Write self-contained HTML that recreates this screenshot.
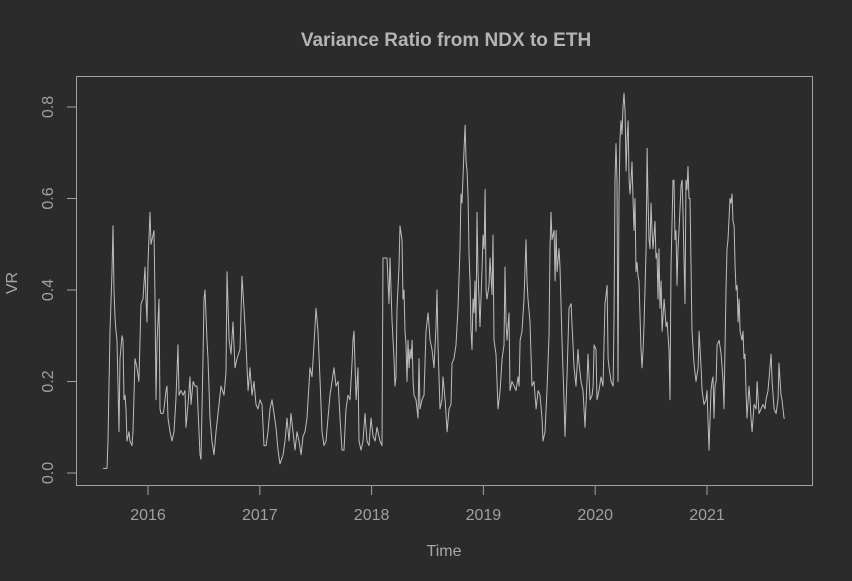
<!DOCTYPE html>
<html><head><meta charset="utf-8"><style>
html,body{margin:0;padding:0;background:#2b2b2b;}
svg{display:block;font-family:"Liberation Sans",Arial,sans-serif;}
</style></head><body>
<svg id="chart" width="852" height="581" viewBox="0 0 852 581" xmlns="http://www.w3.org/2000/svg">
<rect x="0" y="0" width="852" height="581" fill="#2b2b2b"/>
<text x="446" y="46" text-anchor="middle" font-size="19" font-weight="bold" fill="#b4b4b4">Variance Ratio from NDX to ETH</text>
<g id="yaxis"></g>
<g id="xaxis"></g>
<text x="444" y="556" text-anchor="middle" font-size="16" fill="#a8a8a8">Time</text>
<text x="17" y="283" text-anchor="middle" font-size="16" fill="#a8a8a8" transform="rotate(-90 17 283)">VR</text>
<path id="series" fill="none" stroke="#bdbdbd" stroke-width="1" stroke-linejoin="round"/>
<rect x="76.5" y="76.5" width="736" height="409" fill="none" stroke="#a0a0a0" stroke-width="1"/>
</svg>
<script>
const xTicks = [2016, 2017, 2018, 2019, 2020, 2021];
const yTicks = [0, 0.2, 0.4, 0.6, 0.8];
const yTickLabels = ["0.0", "0.2", "0.4", "0.6", "0.8"];
const times = [2015.598,2015.633,2015.642,2015.660,2015.678,2015.687,2015.696,2015.705,2015.714,2015.723,2015.741,2015.750,2015.767,2015.776,2015.785,2015.794,2015.803,2015.812,2015.830,2015.839,2015.857,2015.866,2015.884,2015.902,2015.919,2015.937,2015.955,2015.973,2015.982,2015.991,
2016.000,2016.018,2016.027,2016.036,2016.054,2016.063,2016.072,2016.081,2016.098,2016.107,2016.116,2016.134,2016.143,2016.161,2016.170,2016.179,2016.197,2016.215,2016.233,2016.250,2016.268,2016.277,2016.295,2016.313,2016.331,2016.340,2016.358,2016.376,2016.385,2016.403,2016.420,2016.438,2016.456,2016.465,2016.474,2016.492,2016.501,2016.510,2016.528,2016.537,2016.555,2016.572,2016.590,2016.608,2016.635,2016.653,2016.680,2016.698,2016.707,2016.725,2016.742,2016.760,2016.778,2016.796,2016.823,2016.841,2016.859,2016.877,2016.895,2016.912,2016.930,2016.948,2016.966,2016.984,
2017.002,2017.020,2017.038,2017.056,2017.073,2017.091,2017.109,2017.127,2017.145,2017.163,2017.181,2017.208,2017.225,2017.243,2017.261,2017.279,2017.297,2017.315,2017.333,2017.351,2017.369,2017.386,2017.404,2017.422,2017.449,2017.467,2017.485,2017.503,2017.521,2017.539,2017.556,2017.574,2017.592,2017.610,2017.628,2017.646,2017.664,2017.682,2017.700,2017.717,2017.735,2017.753,2017.771,2017.789,2017.807,2017.825,2017.834,2017.843,2017.861,2017.878,2017.887,2017.905,2017.923,2017.941,2017.959,2017.977,2017.995,
2018.013,2018.031,2018.048,2018.075,2018.093,2018.102,2018.120,2018.138,2018.156,2018.165,2018.183,2018.200,2018.209,2018.218,2018.227,2018.245,2018.254,2018.272,2018.281,2018.290,2018.299,2018.308,2018.317,2018.326,2018.335,2018.344,2018.353,2018.362,2018.371,2018.379,2018.397,2018.415,2018.424,2018.433,2018.451,2018.469,2018.487,2018.505,2018.523,2018.540,2018.558,2018.576,2018.585,2018.594,2018.612,2018.630,2018.639,2018.657,2018.675,2018.692,2018.710,2018.719,2018.737,2018.755,2018.773,2018.791,2018.800,2018.809,2018.827,2018.836,2018.845,2018.854,2018.863,2018.871,2018.880,2018.889,2018.898,2018.907,2018.916,2018.925,2018.934,2018.943,2018.952,2018.970,2018.988,2018.997,
2019.006,2019.015,2019.024,2019.032,2019.050,2019.059,2019.077,2019.086,2019.095,2019.113,2019.122,2019.131,2019.149,2019.167,2019.184,2019.193,2019.202,2019.211,2019.229,2019.238,2019.256,2019.274,2019.292,2019.310,2019.319,2019.328,2019.345,2019.363,2019.381,2019.390,2019.399,2019.417,2019.435,2019.453,2019.471,2019.489,2019.506,2019.524,2019.533,2019.551,2019.569,2019.587,2019.596,2019.605,2019.614,2019.632,2019.641,2019.650,2019.659,2019.676,2019.685,2019.703,2019.721,2019.730,2019.748,2019.766,2019.784,2019.793,2019.811,2019.828,2019.846,2019.855,2019.873,2019.891,2019.909,2019.927,2019.936,2019.954,2019.972,2019.981,2019.990,
2020.007,2020.016,2020.034,2020.052,2020.070,2020.088,2020.106,2020.115,2020.124,2020.142,2020.160,2020.168,2020.177,2020.186,2020.195,2020.204,2020.213,2020.222,2020.231,2020.240,2020.249,2020.258,2020.267,2020.276,2020.285,2020.294,2020.303,2020.311,2020.320,2020.329,2020.338,2020.347,2020.356,2020.365,2020.374,2020.383,2020.392,2020.410,2020.419,2020.428,2020.437,2020.455,2020.464,2020.472,2020.481,2020.490,2020.499,2020.508,2020.517,2020.535,2020.544,2020.553,2020.562,2020.571,2020.580,2020.589,2020.598,2020.616,2020.634,2020.643,2020.660,2020.669,2020.678,2020.696,2020.705,2020.714,2020.723,2020.732,2020.741,2020.750,2020.768,2020.777,2020.785,2020.794,2020.803,2020.812,2020.821,2020.830,2020.839,2020.848,2020.866,2020.884,2020.902,2020.920,2020.929,2020.947,2020.956,2020.973,2020.991,
2021.000,2021.018,2021.036,2021.045,2021.054,2021.063,2021.072,2021.081,2021.090,2021.108,2021.126,2021.144,2021.152,2021.170,2021.179,2021.188,2021.206,2021.215,2021.224,2021.233,2021.242,2021.251,2021.260,2021.269,2021.278,2021.287,2021.296,2021.313,2021.322,2021.331,2021.340,2021.349,2021.358,2021.376,2021.385,2021.394,2021.403,2021.421,2021.439,2021.448,2021.465,2021.483,2021.501,2021.519,2021.528,2021.546,2021.573,2021.582,2021.600,2021.618,2021.635,2021.644,2021.662,2021.671,2021.689,2021.698];
const vrValues = [0.01,0.01,0.07,0.31,0.44,0.54,0.40,0.34,0.31,0.29,0.09,0.25,0.30,0.29,0.16,0.17,0.14,0.07,0.09,0.07,0.06,0.09,0.25,0.23,0.20,0.37,0.38,0.45,0.38,0.33,
0.46,0.57,0.50,0.51,0.53,0.38,0.16,0.29,0.38,0.14,0.13,0.13,0.14,0.18,0.19,0.12,0.09,0.07,0.09,0.16,0.28,0.17,0.18,0.17,0.18,0.10,0.15,0.21,0.15,0.20,0.19,0.19,0.09,0.04,0.03,0.25,0.38,0.40,0.29,0.25,0.12,0.07,0.04,0.09,0.15,0.19,0.17,0.22,0.44,0.29,0.26,0.33,0.23,0.25,0.27,0.43,0.36,0.28,0.18,0.23,0.17,0.20,0.15,0.14,
0.16,0.15,0.06,0.06,0.09,0.14,0.16,0.13,0.10,0.05,0.02,0.04,0.07,0.12,0.07,0.13,0.09,0.05,0.09,0.07,0.04,0.08,0.09,0.12,0.23,0.21,0.28,0.36,0.31,0.20,0.09,0.06,0.07,0.12,0.17,0.20,0.23,0.19,0.20,0.12,0.05,0.05,0.14,0.17,0.16,0.24,0.29,0.31,0.16,0.23,0.07,0.05,0.07,0.13,0.07,0.06,0.12,
0.08,0.07,0.10,0.07,0.06,0.47,0.47,0.47,0.37,0.47,0.33,0.25,0.19,0.21,0.36,0.45,0.54,0.51,0.38,0.40,0.31,0.28,0.20,0.29,0.23,0.27,0.25,0.29,0.20,0.17,0.16,0.12,0.25,0.14,0.16,0.17,0.31,0.35,0.29,0.27,0.23,0.32,0.40,0.28,0.14,0.16,0.21,0.16,0.09,0.14,0.15,0.24,0.25,0.28,0.36,0.49,0.61,0.59,0.71,0.76,0.68,0.66,0.60,0.48,0.42,0.31,0.27,0.38,0.35,0.42,0.31,0.57,0.44,0.32,0.45,0.52,
0.49,0.62,0.40,0.38,0.41,0.47,0.39,0.52,0.29,0.26,0.20,0.14,0.18,0.25,0.28,0.45,0.33,0.29,0.35,0.18,0.20,0.19,0.18,0.21,0.19,0.29,0.31,0.38,0.51,0.42,0.38,0.33,0.19,0.20,0.14,0.18,0.17,0.12,0.07,0.09,0.18,0.30,0.49,0.57,0.51,0.53,0.42,0.53,0.44,0.49,0.45,0.29,0.16,0.08,0.21,0.36,0.37,0.32,0.23,0.19,0.27,0.24,0.20,0.18,0.10,0.20,0.26,0.16,0.17,0.19,0.28,
0.27,0.16,0.18,0.21,0.19,0.37,0.41,0.25,0.23,0.20,0.19,0.33,0.64,0.72,0.64,0.20,0.60,0.73,0.77,0.74,0.80,0.83,0.79,0.66,0.73,0.77,0.64,0.61,0.64,0.68,0.60,0.53,0.60,0.44,0.46,0.43,0.42,0.27,0.23,0.27,0.33,0.49,0.71,0.60,0.51,0.49,0.59,0.53,0.49,0.55,0.47,0.48,0.38,0.49,0.36,0.42,0.31,0.38,0.32,0.33,0.27,0.16,0.45,0.64,0.64,0.51,0.53,0.41,0.49,0.53,0.63,0.64,0.57,0.47,0.37,0.64,0.62,0.67,0.60,0.60,0.31,0.24,0.20,0.23,0.31,0.23,0.18,0.15,0.16,
0.18,0.05,0.18,0.20,0.21,0.12,0.19,0.20,0.28,0.29,0.26,0.20,0.14,0.40,0.49,0.51,0.60,0.59,0.61,0.55,0.54,0.45,0.40,0.41,0.33,0.38,0.31,0.29,0.31,0.25,0.26,0.18,0.12,0.19,0.16,0.12,0.09,0.15,0.14,0.20,0.13,0.14,0.15,0.14,0.16,0.18,0.26,0.20,0.14,0.13,0.16,0.24,0.17,0.16,0.12,0.12];

const NS = "http://www.w3.org/2000/svg";
const xScale = t => 148 + (t - 2016) * 111.8;
const yScale = v => 473 - v * 457.5;

const yAxis = document.getElementById("yaxis");
yTicks.forEach((v, i) => {
  const y = yScale(v);
  const tick = document.createElementNS(NS, "line");
  
  
  tick.setAttribute("x1", 67); tick.setAttribute("x2", 76.5);
  tick.setAttribute("y1", y); tick.setAttribute("y2", y);
  tick.setAttribute("stroke", "#a0a0a0");
  yAxis.appendChild(tick);
  const lab = document.createElementNS(NS, "text");
  
  
  lab.setAttribute("x", 53); lab.setAttribute("y", y);
  lab.setAttribute("text-anchor", "middle");
  lab.setAttribute("font-size", "16");
  lab.setAttribute("fill", "#a0a0a0");
  lab.setAttribute("transform", "rotate(-90 53 " + y + ")");
  lab.textContent = yTickLabels[i];
  yAxis.appendChild(lab);
});

const xAxis = document.getElementById("xaxis");
xTicks.forEach(t => {
  const x = xScale(t);
  const tick = document.createElementNS(NS, "line");
  
  
  tick.setAttribute("x1", x); tick.setAttribute("x2", x);
  tick.setAttribute("y1", 485.5); tick.setAttribute("y2", 495);
  tick.setAttribute("stroke", "#a0a0a0");
  xAxis.appendChild(tick);
  const lab = document.createElementNS(NS, "text");
  
  
  lab.setAttribute("x", x); lab.setAttribute("y", 520);
  lab.setAttribute("text-anchor", "middle");
  lab.setAttribute("font-size", "16");
  lab.setAttribute("fill", "#a0a0a0");
  lab.textContent = String(t);
  xAxis.appendChild(lab);
});

let d = "";
times.forEach((t, i) => {
  d += (i ? "L" : "M") + xScale(t).toFixed(1) + " " + yScale(vrValues[i]).toFixed(1);
});
document.getElementById("series").setAttribute("d", d);
</script>
</body></html>
